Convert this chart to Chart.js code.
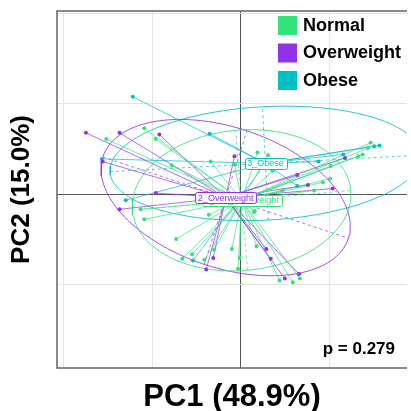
<!DOCTYPE html>
<html>
<head>
<meta charset="utf-8">
<script src="https://cdn.jsdelivr.net/npm/chart.js@4.4.1/dist/chart.umd.min.js"></script>
<style>
  html, body { margin: 0; padding: 0; background: #fff; }
  #wrap { width: 411px; height: 411px; }
</style>
</head>
<body>
<div id="wrap"><canvas id="pca-chart"></canvas></div>
<script>
// groups
var groups = ["Normal", "Overweight", "Obese"];
var groupLabels = ["1_Not_Overweight", "2_Overweight", "3_Obese"];
var groupColors = ["#33E27A", "#9131EA", "#00BEC6"];

// individual scores (PC1 / PC2)
var normalPC1 = [-1.52, -1.09, -0.96, -0.78, -0.34, -1.13, -1.09, -0.36, -0.30, -0.73, -0.55, -0.66, -0.41, 0.15, -0.10, -0.01, -0.03, 0.18, 0.44, 0.59, 0.67, 0.19, 0.31, -0.07, 1.47, 1.44, 1.33, 1.38, 1.02, 1.01, 0.93, 0.83, 0.47, 0.36, 0.16];
var normalPC2 = [0.61, 0.73, 0.61, 0.32, 0.36, -0.17, -0.28, -0.23, -0.62, -0.50, -0.67, -0.72, -0.73, -0.20, -0.61, -0.71, -0.83, -0.58, -0.96, -0.98, -0.94, 0.46, 0.43, 0.33, 0.57, 0.51, 0.42, 0.44, 0.31, 0.17, 0.13, 0.04, 0.04, 0.26, -0.19];

var overweightPC1 = [-1.75, -1.37, -0.92, -1.56, -0.96, -1.37, -0.31, -0.39, 0.29, 0.34, 0.66, 0.50, -0.07, 1.18, 0.64, 0.76, 1.04];
var overweightPC2 = [0.68, 0.68, 0.66, 0.36, 0.01, -0.17, -0.71, -0.84, -0.61, -0.72, -0.89, -0.94, 0.42, 0.40, 0.21, 0.10, 0.06];

var obesePC1 = [-1.22, -0.35, -1.57, -1.30, -0.54, 0.88, 1.16, 1.51, 1.57, 0.64, 0.36];
var obesePC2 = [1.08, 0.67, 0.39, -0.07, -0.74, 0.36, 0.44, 0.53, 0.54, 0.09, 0.26];

// group means
var meanPC1 = [0.01, -0.17, 0.28];
var meanPC2 = [-0.07, -0.04, 0.34];

// confidence ellipses: semi-axes and tilt (degrees)
var ellipseMajor = [1.24, 1.46, 1.76];
var ellipseMinor = [0.78, 0.78, 0.63];
var ellipseAngle = [5, -18, 3];

var xTitle = "PC1 (48.9%)";
var yTitle = "PC2 (15.0%)";
var pText = "p = 0.279";

var FONT = "'Liberation Sans', Arial, Helvetica, sans-serif";
var pc1 = [normalPC1, overweightPC1, obesePC1];
var pc2 = [normalPC2, overweightPC2, obesePC2];

function alpha(hex, a) {
    var n = parseInt(hex.slice(1), 16);
    return "rgba(" + (n >> 16) + "," + ((n >> 8) & 255) + "," + (n & 255) + "," + a + ")";
}

function pointsOf(g) {
    return pc1[g].map(function (x, i) { return { x: x, y: pc2[g][i] }; });
}

function spiderOf(g) {
    var out = [];
    pc1[g].forEach(function (x, i) {
        out.push({ x: meanPC1[g], y: meanPC2[g] }, { x: x, y: pc2[g][i] }, { x: null, y: null });
    });
    return out;
}

function ellipseOf(g) {
    var out = [], th = ellipseAngle[g] * Math.PI / 180;
    var a = ellipseMajor[g], b = ellipseMinor[g];
    for (var k = 0; k <= 120; k++) {
        var t = k / 120 * 2 * Math.PI;
        out.push({
            x: meanPC1[g] + a * Math.cos(th) * Math.cos(t) - b * Math.sin(th) * Math.sin(t),
            y: meanPC2[g] + a * Math.sin(th) * Math.cos(t) + b * Math.cos(th) * Math.sin(t)
        });
    }
    return out;
}

function axesOf(g) {
    var th = ellipseAngle[g] * Math.PI / 180;
    var a = ellipseMajor[g], b = ellipseMinor[g];
    var cx = meanPC1[g], cy = meanPC2[g];
    return [
        { x: cx - a * Math.cos(th), y: cy - a * Math.sin(th) },
        { x: cx + a * Math.cos(th), y: cy + a * Math.sin(th) },
        { x: null, y: null },
        { x: cx + b * Math.sin(th), y: cy - b * Math.cos(th) },
        { x: cx - b * Math.sin(th), y: cy + b * Math.cos(th) }
    ];
}

var datasets = [];
groups.forEach(function (name, g) {
    var c = groupColors[g];
    datasets.push({
        label: name, data: pointsOf(g), order: 0,
        pointRadius: 2, pointBorderWidth: 0, pointBackgroundColor: c, showLine: false
    });
    datasets.push({
        label: name + " spider", data: spiderOf(g), order: 1,
        showLine: true, spanGaps: false, pointRadius: 0, borderWidth: 1, borderColor: alpha(c, 0.7)
    });
    datasets.push({
        label: name + " axes", data: axesOf(g), order: 2,
        showLine: true, spanGaps: false, pointRadius: 0, borderWidth: 1, borderDash: [3, 3], borderColor: alpha(c, 0.7)
    });
    datasets.push({
        label: name + " ellipse", data: ellipseOf(g), order: 3,
        showLine: true, pointRadius: 0, borderWidth: 1, borderColor: alpha(c, 0.85), tension: 0
    });
});

// frame, centroid labels, legend and p value
var decor = {
    id: "decor",
    afterDatasetsDraw: function (chart) {
        var ctx = chart.ctx, xs = chart.scales.x, ys = chart.scales.y;
        ctx.save();
        ctx.font = "9px " + FONT;
        ctx.textBaseline = "middle";
        ctx.textAlign = "center";
        [0, 2, 1].forEach(function (g) {
            var px = xs.getPixelForValue(meanPC1[g]), py = ys.getPixelForValue(meanPC2[g]);
            var w = ctx.measureText(groupLabels[g]).width + 5, h = 11;
            ctx.fillStyle = "#fff";
            ctx.strokeStyle = groupColors[g];
            ctx.lineWidth = 1;
            ctx.beginPath();
            ctx.roundRect(Math.round(px - w / 2) + 0.5, Math.round(py - h / 2) + 0.5, Math.round(w), h, 2);
            ctx.fill();
            ctx.stroke();
            ctx.fillStyle = groupColors[g];
            ctx.fillText(groupLabels[g], px, py + 0.5);
        });
        ctx.restore();
    },
    afterDraw: function (chart) {
        var ctx = chart.ctx, a = chart.chartArea;
        ctx.save();
        ctx.strokeStyle = "#666";
        ctx.lineWidth = 1.5;
        ctx.beginPath();
        ctx.moveTo(a.right, a.top);
        ctx.lineTo(a.left, a.top);
        ctx.lineTo(a.left, a.bottom);
        ctx.lineTo(a.right, a.bottom);
        ctx.stroke();

        // legend
        ctx.font = "bold 18px " + FONT;
        ctx.textBaseline = "middle";
        ctx.textAlign = "left";
        groups.forEach(function (name, g) {
            var y = a.top + 5 + g * 27.5;
            ctx.fillStyle = groupColors[g];
            ctx.fillRect(a.left + 221, y, 19, 19);
            ctx.fillStyle = "#000";
            ctx.fillText(name, a.left + 246, y + 10);
        });

        ctx.font = "bold 17px " + FONT;
        ctx.textAlign = "right";
        ctx.fillText(pText, a.right - 12, a.bottom - 19);
        ctx.restore();
    }
};

var gridColor = function (c) {
    return c.tick && c.tick.value === 0 ? "#555" : "#e4e4e4";
};

var ctx1 = document.getElementById("pca-chart").getContext("2d");
var myChart1 = new Chart(ctx1, {
    type: "scatter",
    data: { datasets: datasets },
    options: {
        responsive: true,
        maintainAspectRatio: false,
        animation: false,
        events: [],
        layout: { padding: { top: 11, left: 0, right: 0, bottom: 0 } },
        plugins: { legend: { display: false }, tooltip: { enabled: false } },
        scales: {
            x: {
                min: -2.077, max: 1.881,
                ticks: { display: false, stepSize: 1, includeBounds: false },
                grid: { color: gridColor, drawTicks: false, lineWidth: 1 },
                border: { display: false },
                title: { display: true, text: xTitle, color: "#000", padding: 0,
                         font: { family: FONT, size: 31, weight: "bold", lineHeight: 0.9 } },
                afterFit: function (s) { s.height = 43; }
            },
            y: {
                min: -1.933, max: 2.033,
                ticks: { display: false, stepSize: 1, includeBounds: false },
                grid: { color: gridColor, drawTicks: false, lineWidth: 1 },
                border: { display: false },
                title: { display: true, text: yTitle, color: "#000", padding: { top: 10, bottom: 0 },
                         font: { family: FONT, size: 26, weight: "bold", lineHeight: 0.9 } },
                afterFit: function (s) { s.width = 57; }
            }
        }
    },
    plugins: [decor]
});
</script>
</body>
</html>
